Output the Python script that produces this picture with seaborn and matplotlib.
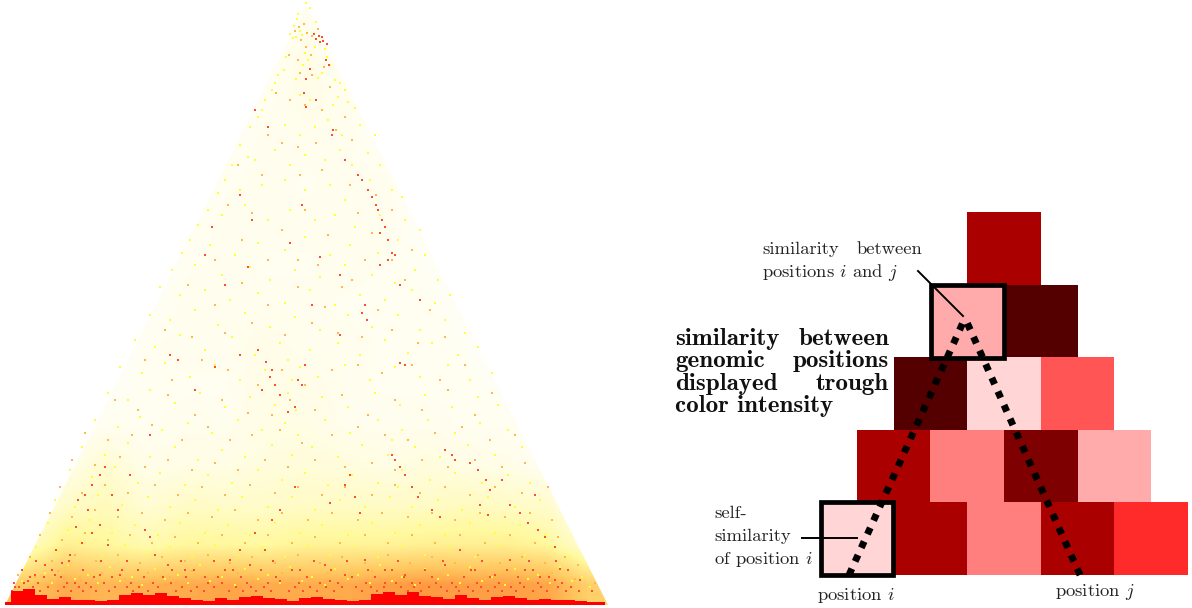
import numpy as np
import pandas as pd
import seaborn as sns
import matplotlib
matplotlib.use('Agg')
import matplotlib.pyplot as plt
from matplotlib.colors import LinearSegmentedColormap
from matplotlib.patches import Rectangle, Polygon

# left panel: points as (mid position, distance i-j)
yellow_pts = [(306,602),(310,597),(298,591),(297,586),(294,579),(300,574),(302,570),(296,568),(290,571),(293,567),(316,583),
(286,548),(305,552),(308,545),(315,558),(325,556),(330,540),(303,540),(327,548),(278,530),(284,535),(275,522),(296,526),(318,527),(322,532),(335,525),(340,522),(345,515),
(265,505),(272,515),(300,510),(310,505),(333,500),(338,508),(355,497),(348,503),(258,488),(250,478),(262,495),(285,480),(300,470),(315,478),(328,485),(342,470),(360,480),(375,470),
(240,460),(248,448),(232,440),(255,445),(275,455),(290,440),(305,450),(325,445),(340,455),(352,440),(368,452),(380,440),(225,425),(218,412),(240,415),(262,420),(285,425),(305,415),(330,420),(345,405),(370,425),(392,415),(402,408),
(208,395),(198,380),(222,390),(245,400),(268,385),(290,395),(315,385),(335,390),(355,378),(380,390),(405,385),(420,375),(190,365),(182,352),(210,360),(235,350),(258,362),(285,355),(305,368),(330,350),(350,360),(378,352),(398,365),(425,350),
(172,335),(195,340),(222,330),(250,338),(270,325),(295,335),(320,328),(345,340),(372,330),(395,322),(415,335),(438,325),(160,318),(180,310),(205,315),(230,305),(258,312),(285,302),(310,315),(335,300),(360,310),(385,305),(412,315),(435,302),(450,310),
(150,290),(170,285),(195,295),(218,280),(245,292),(270,278),(295,288),(320,275),(348,290),(372,278),(398,290),(420,275),(445,285),(465,272),(135,265),(155,258),(180,270),(205,255),(232,268),(255,250),(280,262),(288,245),(310,255),(338,262),(360,250),(385,265),(408,252),(432,262),(458,250),(478,258),
(120,238),(142,232),(165,242),(190,228),(215,240),(240,225),(265,235),(292,225),(300,238),(318,228),(345,240),(370,225),(395,238),(420,228),(448,240),(470,225),(492,232),(108,212),(128,205),(150,215),(175,202),(200,212),(225,198),(250,208),(275,200),(288,212),(296,195),(322,208),(348,198),(375,212),(400,200),(425,210),(452,198),(478,208),(498,200),
(95,185),(118,178),(140,188),(162,175),(188,182),(212,172),(238,185),(262,175),(285,182),(298,170),(325,185),(350,172),(378,185),(402,175),(428,185),(455,172),(480,182),(508,175),(82,158),(105,150),(128,162),(150,148),(175,158),(198,145),(222,155),(245,148),(272,160),(292,150),(312,158),(338,148),(362,160),(388,150),(415,158),(392,165),(440,148),(468,160),(495,150),(522,158),
(70,135),(92,128),(115,138),(138,122),(160,132),(185,120),(208,130),(232,122),(258,135),(282,125),(305,132),(328,120),(352,130),(378,122),(402,135),(398,118),(430,125),(455,132),(482,122),(508,130),(530,122),(55,105),(75,98),(98,110),(122,100),(148,108),(170,98),(195,105),(218,95),(242,108),(268,98),(292,108),(315,95),(340,105),(365,98),(390,108),(412,98),(438,105),(462,95),(488,108),(515,98),(540,105),
(48,82),(68,75),(90,85),(112,72),(135,80),(158,70),(180,82),(205,72),(228,80),(250,70),(275,82),(300,72),(322,80),(348,70),(372,82),(395,72),(420,80),(445,70),(470,82),(495,72),(520,80),(545,70),(36,58),(58,52),(80,62),(102,50),(125,60),(148,50),(170,58),(192,48),(215,60),(238,50),(262,58),(285,48),(308,60),(330,50),(355,58),(378,48),(402,60),(425,50),(450,58),(475,48),(500,60),(525,50),(550,58),(570,48),
(25,38),(45,32),(68,40),(88,30),(110,38),(132,28),(155,36),(178,30),(200,40),(222,28),(245,36),(268,30),(290,38),(312,28),(335,36),(358,30),(380,40),(402,28),(425,36),(448,30),(470,38),(492,28),(515,36),(538,30),(560,38),(582,28),(22,24),(52,22),(75,26),(98,22),(120,24),(142,20),(165,26),(188,22),(210,24),(235,20),(258,26),(280,22),(302,24),(325,20),(348,26),(370,22),(392,24),(415,20),(438,26),(460,22),(482,24),(505,20),(528,26),(550,22),(572,24),(590,18)]
orange_pts = [(299,578),(304,581),(307,572),(312,569),(295,574),(301,565),(318,576),(306,558),(311,550),(298,545),(289,550),(300,532),(324,538),(312,530),(330,518),(276,512),(290,505),(305,500),(322,495),(345,488),(268,470),(282,462),(298,458),(316,462),(336,475),(352,465),(238,440),(262,430),(300,430),(322,435),(350,420),(376,410),(392,395),
(228,400),(252,392),(282,375),(305,395),(328,370),(358,392),(372,372),(215,345),(242,365),(268,345),(298,345),(318,340),(342,318),(365,345),(392,345),(412,355),(188,320),(215,300),(242,322),(268,300),(298,318),(325,298),(352,325),(378,295),(405,325),(430,295),
(165,275),(192,268),(225,272),(252,282),(285,270),(312,282),(338,272),(362,268),(392,275),(418,262),(445,268),(145,245),(172,225),(202,245),(228,235),(258,220),(282,235),(305,220),(332,235),(358,240),(382,232),(412,240),(440,225),(465,240),(115,205),(138,195),(168,210),(195,190),(222,205),(248,192),(272,190),(290,205),(315,195),(342,210),(368,190),(395,205),(422,195),(448,215),(475,190),(492,212),
(85,172),(108,165),(132,170),(152,180),(182,165),(208,178),(230,165),(252,170),(280,175),(302,162),(332,170),(358,178),(385,170),(408,165),(435,172),(462,178),(490,165),(515,170),(72,145),(95,140),(120,148),(145,138),(168,145),(192,135),(215,142),(238,135),(265,145),(288,138),(315,145),(345,138),(372,142),(395,135),(422,145),(448,138),(475,145),(502,138),(525,142),
(60,118),(82,112),(105,120),(128,112),(155,120),(178,110),(202,118),(225,110),(250,120),(275,112),(298,118),(322,110),(345,118),(372,110),(395,120),(420,112),(445,118),(470,110),(495,118),(522,112),(548,118),(50,92),(72,88),(95,95),(118,88),(142,92),(165,85),(188,92),(212,88),(235,95),(258,85),(282,92),(308,85),(332,92),(358,85),(382,92),(408,88),(432,92),(455,85),(480,92),(505,88),(530,92),(552,85),
(40,70),(62,65),(85,72),(108,65),(130,70),(152,62),(175,68),(198,62),(222,70),(245,62),(268,70),(292,62),(315,68),(340,62),(365,70),(388,62),(412,70),(435,62),(460,70),(485,62),(510,70),(535,62),(558,68),(30,48),(52,44),(75,50),(96,44),(118,50),(140,42),(162,48),(185,44),(208,50),(230,42),(252,48),(275,42),(298,50),(320,42),(342,48),(365,42),(388,50),(410,42),(432,48),(455,42),(478,50),(500,42),(522,48),(545,42),(565,48),(578,40),
(18,30),(35,28),(58,34),(80,28),(102,32),(125,26),(148,32),(170,28),(192,34),(215,26),(238,32),(260,26),(282,32),(305,26),(328,32),(350,26),(372,34),(395,26),(418,32),(440,26),(462,32),(485,26),(508,32),(530,26),(552,32),(575,26),(595,22)]
red_pts = [(319,569),(322,568),(316,566),(323,564),(314,571),(320,563),(327,561),(326,545),(329,540),(310,536),(306,526),(316,505),(306,498),(304,512),(332,470),(333,475),(345,445),(358,430),(362,425),(368,415),(372,408),(376,400),(378,395),(382,385),(385,378),(380,372),(388,365),(392,352),(395,350),(388,345),(380,340),(365,300),(362,292),(367,285),
(255,495),(268,478),(240,410),(252,385),(212,378),(205,350),(225,320),(248,338),(302,400),(290,362),(320,348),(312,300),(340,330),(400,320),(420,305),(170,250),(178,245),(195,215),(215,238),(240,250),(258,255),(272,235),(270,228),(266,243),(262,215),(275,220),(280,210),(288,193),(295,198),(305,240),(302,220),(298,225),(340,270),(400,242),(405,240),(150,170),(130,130),
(445,155),(452,150),(455,145),(470,142),(478,135),(486,125),(490,115),(510,100),(520,92),(528,82),(538,75),(545,68),(555,58),(535,110),(502,125),(480,100),(488,90),(392,150),(395,145),(400,138),(405,130),(412,118),(418,108),(432,95),(440,88),(350,130),(345,120),(355,108),(360,92),(330,102),(295,118),(280,95),(272,85),(255,72),(240,55),(230,45),
(105,138),(100,130),(92,120),(85,110),(78,105),(88,95),(100,80),(92,72),(82,62),(70,50),(62,42),(112,110),(118,95),(108,60),(76,78),(56,55),(45,40),(35,30),(28,24),(145,75),(150,68),(155,50),(168,40),(185,35),(205,28),(225,35),(250,40),(265,55),(300,35),(325,40),(345,30),(365,45),(385,35),(405,30),(445,40),(460,55),(475,35),(495,30),(510,45),(525,35),(540,28),(560,36),(580,25),(555,25),(15,18),(120,30),(100,30),(75,22),(55,30),(420,22),(385,22),(330,24),(280,24)]

# red specks just above the base band, (distance, positions)
base_rows = [(14,[12,27,40,58,71,83,96,109,133,148,176,191,204,229,243,256,271,289,303,317,334,362,377,408,421,447,459,473,488,502,516,533,547,566,579,592]),
(18,[19,33,48,64,79,91,115,127,139,158,182,197,214,236,251,264,295,310,326,342,356,371,384,401,414,429,441,456,468,481,495,511,524,541,558,571]),
(22,[14,24,38,67,86,104,131,153,171,208,222,247,268,299,320,338,366,396,412,436,452,477,499,520,538,562]),
(28,[30,44,61,94,112,144,163,186,218,241,276,307,352,375,404,432,464,490,518,549]),
(35,[22,52,83,122,138,172,194,233,261,292,331,368,392,425,471,507,533,568]),
(44,[36,69,101,127,181,214,273,314,347,398,443,482,529,556])]

# left panel: height of the solid red band along the base
band_x = list(range(5, 610, 12))
band_h = [3,14,16,10,6,8,5,5,4,5,10,12,10,12,9,7,5,4,7,5,8,9,7,6,4,7,8,6,5,4,5,11,13,10,13,9,8,6,10,7,5,8,9,7,5,6,5,5,4,3,3]

# left panel: share of coloured pixels per block, top row first, read by eye
density_rows = [
    [0,0,0,0,0,0,0,.05,0,0,0,0,0,0,0],
    [0,0,0,0,0,0,.03,.07,.03,0,0,0,0,0,0],
    [0,0,0,0,0,0,.04,.06,.05,0,0,0,0,0,0],
    [0,0,0,0,0,.03,.05,.05,.05,.02,0,0,0,0,0],
    [0,0,0,0,0,.04,.05,.04,.05,.05,0,0,0,0,0],
    [0,0,0,0,.03,.05,.05,.05,.05,.05,.02,0,0,0,0],
    [0,0,0,0,.04,.05,.04,.04,.05,.04,.03,0,0,0,0],
    [0,0,0,.02,.05,.05,.05,.05,.04,.04,.04,.02,0,0,0],
    [0,0,0,.04,.05,.05,.06,.05,.05,.04,.04,.03,0,0,0],
    [0,0,.02,.04,.04,.04,.07,.06,.05,.04,.04,.04,.02,0,0],
    [0,0,.04,.04,.05,.05,.07,.07,.05,.05,.05,.04,.04,0,0],
    [0,.05,.12,.06,.07,.07,.09,.10,.09,.07,.09,.07,.06,.04,0],
    [0,.14,.18,.11,.15,.14,.14,.15,.15,.15,.15,.17,.15,.13,0],
    [.14,.30,.26,.21,.26,.26,.25,.28,.28,.28,.30,.30,.30,.26,.10],
    [.50,.60,.56,.58,.60,.62,.60,.60,.60,.64,.66,.64,.64,.62,.46],
]

# right panel: similarity per row, bottom row first
row_0 = [1/12, 8/12, 3/12, 8/12, 5/12]
row_1 = [8/12, 3/12, 9/12, 2/12]
row_2 = [10/12, 1/12, 4/12]
row_3 = [2/12, 10/12]
row_4 = [8/12]

plt.rcParams['mathtext.fontset'] = 'cm'
plt.rcParams['axes.unicode_minus'] = False

fig = plt.figure(figsize=(11.92, 6.08), dpi=100)
fig.patch.set_facecolor('white')

# triangle of points, on top of a smoothed density wash
ax = fig.add_axes([0, 0, 612/1192, 1])
wash_cmap = LinearSegmentedColormap.from_list('wash', ['#ffffff', '#fff9a0', '#ffc860', '#ff8030', '#ff0000'])
wash = ax.imshow(np.array(density_rows), vmin=0, vmax=1, cmap=wash_cmap, extent=(5, 608, 0, 600),
                 interpolation='bilinear', aspect='auto', zorder=0)
wash.set_clip_path(Polygon([(5, 0), (608, 0), (306, 600)], transform=ax.transData))

rows = []
for name, pts in [('low', yellow_pts), ('mid', orange_pts), ('high', red_pts)]:
    for x, d in pts:
        rows.append({'mid': x, 'dist': d, 'level': name})
for d, xs in base_rows:
    for x in xs:
        rows.append({'mid': x, 'dist': d, 'level': 'high'})
df = pd.DataFrame(rows)
sns.scatterplot(data=df, x='mid', y='dist', hue='level', hue_order=['low', 'mid', 'high'],
                palette=['#ffff33', '#ffb84d', '#ff4d33'], marker='s', s=3.6, linewidth=0,
                legend=False, ax=ax, zorder=1)
ax.fill_between(band_x, 0, band_h, step='mid', color='#ff0000', linewidth=0, zorder=2)
ax.set_xlim(0, 612)
ax.set_ylim(-3, 605)
ax.axis('off')

# schematic matrix, half-cell columns so rows can be shifted
n_cols = 10
matrix = np.full((5, n_cols), np.nan)
for k, vals in enumerate([row_0, row_1, row_2, row_3, row_4]):
    matrix[4 - k, k:n_cols - k] = np.repeat(vals, 2)
cmap = LinearSegmentedColormap.from_list('wrk', ['#ffffff', '#ff0000', '#000000'])
hax = fig.add_axes([820/1192, (608 - 575)/608, 368/1192, 363/608])
sns.heatmap(matrix, vmin=0, vmax=1, cmap=cmap, cbar=False, xticklabels=False, yticklabels=False, ax=hax)

# annotations in picture pixels
over = fig.add_axes([0, 0, 1, 1])
over.set_xlim(0, 1192)
over.set_ylim(608, 0)
over.axis('off')
over.patch.set_alpha(0)

over.add_patch(Rectangle((820.5, 502), 72.5, 73, fill=False, ec='black', lw=3.4))
over.add_patch(Rectangle((931, 285), 73, 73, fill=False, ec='black', lw=3.4))
dots = (0, (1.0, 1.15))
over.plot([849, 965], [575, 318], color='black', lw=5, ls=dots, dash_capstyle='butt')
over.plot([1080, 965], [575, 318], color='black', lw=5, ls=dots, dash_capstyle='butt')
over.plot([918, 963], [271, 316], color='black', lw=1.4)
over.plot([802, 857], [538, 538], color='black', lw=1.4)

small = dict(family='cmr10', fontsize=13.4, color='#222222', va='baseline')
bold = dict(family='cmb10', fontsize=18, color='#111111', va='baseline')
over.text(762, 254, 'similarity', **small)
over.text(922, 254, 'between', ha='right', **small)
over.text(762, 277, r'positions $i$ and $j$', **small)
over.text(714, 518, 'self-', **small)
over.text(714, 541, 'similarity', **small)
over.text(714, 564, r'of position $i$', **small)
over.text(817, 600, r'position $i$', **small)
over.text(1055, 596, r'position $j$', **small)
over.text(675, 345, 'similarity', **bold)
over.text(889, 345, 'between', ha='right', **bold)
over.text(675, 367, 'genomic', **bold)
over.text(889, 367, 'positions', ha='right', **bold)
over.text(675, 390, 'displayed', **bold)
over.text(889, 390, 'trough', ha='right', **bold)
over.text(675, 412, 'color intensity', **bold)

fig.savefig('out.png', dpi=100)
